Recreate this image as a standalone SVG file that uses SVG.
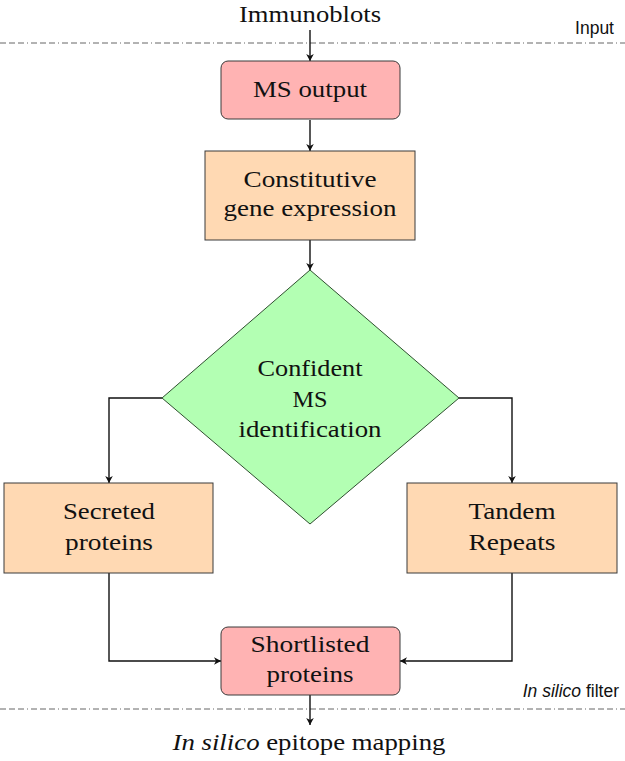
<svg xmlns="http://www.w3.org/2000/svg" width="625" height="761" viewBox="0 0 625 761">
  <style>
    .serif { font-family: "Liberation Serif", "Times New Roman", serif; font-size: 23px; fill: #111; text-anchor: middle; }
    .sans { font-family: "Liberation Sans", Arial, sans-serif; font-size: 17.5px; fill: #111; text-anchor: end; }
    .red { fill: #ffb3b3; stroke: #3a3a3a; stroke-width: 1; }
    .orange { fill: #ffd9b3; stroke: #3a3a3a; stroke-width: 1; }
    .green { fill: #b3ffb3; stroke: #2f4f2f; stroke-width: 1; }
    .conn { fill: none; stroke: #111; stroke-width: 1.4; marker-end: url(#arrow); }
    .sep { stroke: #666; stroke-width: 1; stroke-dasharray: 6 3 6 3 6 3 1 3; }
  </style>
  <defs>
    <marker id="arrow" markerUnits="userSpaceOnUse" markerWidth="10" markerHeight="10" viewBox="-8 -5 10 10" refX="0" refY="0" orient="auto">
      <path d="M0,0 L-7,-3.8 L-5,0 L-7,3.8 Z" fill="#111"/>
    </marker>
  </defs>
  <rect width="625" height="761" fill="#ffffff"/>

  <g id="separators">
    <line class="sep" x1="0" y1="43" x2="625" y2="43"/>
    <line class="sep" x1="0" y1="709" x2="625" y2="709"/>
    <text class="sans" x="614" y="34">Input</text>
    <text class="sans" x="619" y="697"><tspan font-style="italic">In silico</tspan> filter</text>
  </g>

  <g id="connectors">
    <line class="conn" x1="310" y1="30" x2="310" y2="61"/>
    <line class="conn" x1="310" y1="120" x2="310" y2="151"/>
    <line class="conn" x1="310" y1="240" x2="310" y2="270"/>
    <polyline class="conn" points="162,398 109,398 109,483"/>
    <polyline class="conn" points="459,398 512,398 512,483"/>
    <polyline class="conn" points="109,573 109,661 221,661"/>
    <polyline class="conn" points="512,573 512,661 400,661"/>
    <line class="conn" x1="310" y1="695" x2="310" y2="725"/>
  </g>

  <g id="immunoblots">
    <text class="serif" x="310" y="22" textLength="142" lengthAdjust="spacingAndGlyphs">Immunoblots</text>
  </g>

  <g id="ms-output">
    <rect class="red" x="221" y="61" width="179" height="58" rx="7"/>
    <text class="serif" x="310" y="97" textLength="114" lengthAdjust="spacingAndGlyphs">MS output</text>
  </g>

  <g id="constitutive">
    <rect class="orange" x="205" y="151" width="210" height="89"/>
    <text class="serif" x="310" y="187" textLength="133" lengthAdjust="spacingAndGlyphs">Constitutive</text>
    <text class="serif" x="310" y="216" textLength="173" lengthAdjust="spacingAndGlyphs">gene expression</text>
  </g>

  <g id="confident">
    <polygon class="green" points="310,270 459,398 310,524 162,398"/>
    <text class="serif" x="310" y="376" textLength="105" lengthAdjust="spacingAndGlyphs">Confident</text>
    <text class="serif" x="310" y="407" textLength="35" lengthAdjust="spacingAndGlyphs">MS</text>
    <text class="serif" x="310" y="437" textLength="143" lengthAdjust="spacingAndGlyphs">identification</text>
  </g>

  <g id="secreted">
    <rect class="orange" x="4" y="483" width="209" height="90"/>
    <text class="serif" x="109" y="519" textLength="92" lengthAdjust="spacingAndGlyphs">Secreted</text>
    <text class="serif" x="109" y="550" textLength="88" lengthAdjust="spacingAndGlyphs">proteins</text>
  </g>

  <g id="tandem">
    <rect class="orange" x="407" y="483" width="210" height="90"/>
    <text class="serif" x="512" y="519" textLength="87" lengthAdjust="spacingAndGlyphs">Tandem</text>
    <text class="serif" x="512" y="550" textLength="87" lengthAdjust="spacingAndGlyphs">Repeats</text>
  </g>

  <g id="shortlisted">
    <rect class="red" x="221" y="627" width="179" height="68" rx="7"/>
    <text class="serif" x="310" y="652" textLength="119" lengthAdjust="spacingAndGlyphs">Shortlisted</text>
    <text class="serif" x="310" y="682" textLength="87" lengthAdjust="spacingAndGlyphs">proteins</text>
  </g>

  <g id="epitope-mapping">
    <text class="serif" x="309" y="750" textLength="273" lengthAdjust="spacingAndGlyphs"><tspan font-style="italic">In silico</tspan> epitope mapping</text>
  </g>
</svg>
